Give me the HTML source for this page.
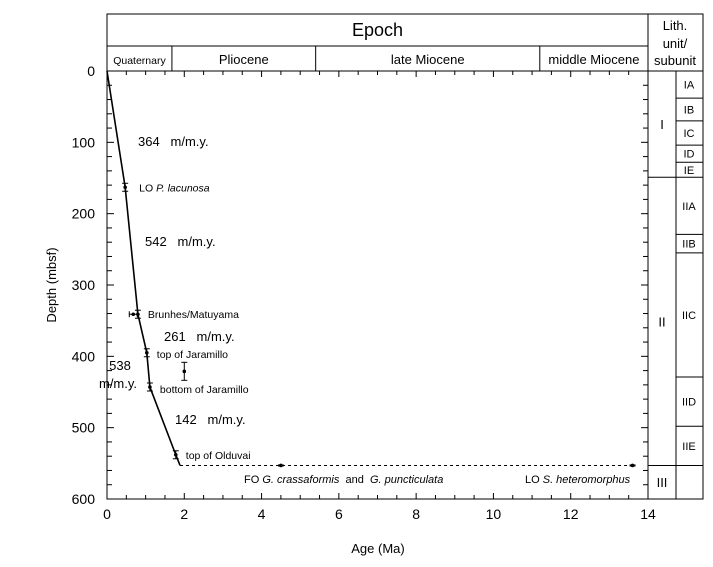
<!DOCTYPE html>
<html><head><meta charset="utf-8"><style>
body{margin:0;background:#fff;}
svg{display:block;font-family:"Liberation Sans",Arial,sans-serif;}
</style></head><body>
<svg id="c" width="713" height="567"></svg>
<script>
const modelAges=[0,0.47,0.80,1.03,1.11,1.78,1.89];
const modelDepths=[0,163,341,395,443,538,553];
const datumNames=["LO P. lacunosa","Brunhes/Matuyama","top of Jaramillo","bottom of Jaramillo","top of Olduvai"];
const extraAges=[0.68,2.0,4.5,13.6];
const extraDepths=[341,421,553,553];
const rateLabels=["364   m/m.y.","542   m/m.y.","261   m/m.y.","142   m/m.y."];
const epochNames=["Quaternary","Pliocene","late Miocene","middle Miocene"];
const epochBounds=[0,1.68,5.4,11.2,14];
const unitNames=["I","II","III"];
const unitBounds=[0,149,553,600];
const subNames=["IA","IB","IC","ID","IE","IIA","IIB","IIC","IID","IIE",""];
const subBounds=[0,38,70,104,128,149,229,255,429,498,553,600];
const xTicks=[0,2,4,6,8,10,12,14];
const yTicks=[0,100,200,300,400,500,600];

const NS="http://www.w3.org/2000/svg";
const svg=document.getElementById('c');
const X0=107,X1=648,Y0=71,Y1=499;
const xs=a=>X0+a*(X1-X0)/14;
const ys=d=>Y0+d*(Y1-Y0)/600;
function el(t,a,p){const e=document.createElementNS(NS,t);for(const k in a)e.setAttribute(k,a[k]);(p||svg).appendChild(e);return e;}
function ln(x1,y1,x2,y2,w,dash){return el('line',{x1,y1,x2,y2,stroke:'#000','stroke-width':w||1,'stroke-dasharray':dash||'none'});}
function tx(x,y,s,size,anchor,style){const t=el('text',{x,y,'font-size':size||13,'text-anchor':anchor||'start','font-style':style||'normal'});t.textContent=s;return t;}

let f=el('rect',{x:X0,y:14,width:703-X0,height:Y1-14,fill:'none',stroke:'#000'});

ln(X0,46,X1,46);ln(X0,Y0,703,Y0);ln(X1,14,X1,Y1);ln(676,Y0,676,Y1);
let t=tx((X0+X1)/2,36,"Epoch",18,'middle');
t=tx(675,30,"Lith.",13,'middle');
tx(675,48,"unit/",13,'middle');tx(675,65,"subunit",13,'middle');
epochNames.forEach((n,i)=>{
  if(i>0)ln(xs(epochBounds[i]),46,xs(epochBounds[i]),Y0);
  const cx=(xs(epochBounds[i])+xs(epochBounds[i+1]))/2;
  const e=tx(cx,64,n,i==0?10.5:13,'middle');
  
  
});
for(let a=0;a<=14;a+=0.5){const L=(a%2==0)?6:4;ln(xs(a),Y0,xs(a),Y0+L);ln(xs(a),Y1,xs(a),Y1-L);}
for(let d=0;d<=600;d+=20){const L=(d%100==0)?7:5;ln(X0,ys(d),X0+L,ys(d));ln(X1,ys(d),X1-L,ys(d));}
xTicks.forEach(v=>{const e=tx(xs(v),519,String(v),14,'middle');});
yTicks.forEach(v=>{const e=tx(X0-12,ys(v)+5,String(v),14,'end');});
t=tx(378,553,"Age (Ma)",13,'middle');
t=tx(0,0,"Depth (mbsf)",13,'middle');t.setAttribute('transform','translate(56,285) rotate(-90)');
unitNames.forEach((n,i)=>{
  if(i>0)ln(X1,ys(unitBounds[i]),676,ys(unitBounds[i]));
  const e=tx(662,(ys(unitBounds[i])+ys(unitBounds[i+1]))/2+5,n,13,'middle');
  
});
subNames.forEach((n,i)=>{
  if(i>0)ln(676,ys(subBounds[i]),703,ys(subBounds[i]));
  if(n){const e=tx(689,(ys(subBounds[i])+ys(subBounds[i+1]))/2+4,n,11,'middle');
  }
});
const pts=modelAges.map((a,i)=>xs(a)+','+ys(modelDepths[i])).join(' ');
let pl=el('polyline',{points:pts,fill:'none',stroke:'#000','stroke-width':1.6});

let dl=ln(xs(modelAges[modelAges.length-1]),ys(553),xs(13.6),ys(553),1,'3,3');

const labelOff=[[14,4],[10,4],[10,5],[10,6],[10,4]];
for(let i=1;i<=5;i++){
  const x=xs(modelAges[i]),y=ys(modelDepths[i]);
  const c=el('circle',{cx:x,cy:y,r:1.8,fill:'#000'});
  
  ln(x-3,y-4,x+3,y-4);ln(x-3,y+4,x+3,y+4);ln(x,y-4,x,y+4);
  const e=tx(x+labelOff[i-1][0],y+labelOff[i-1][1],"",10.5);
  
  const nm=datumNames[i-1];
  if(nm.startsWith("LO ")){e.textContent="LO ";const s=el('tspan',{'font-style':'italic'},e);s.textContent=nm.slice(3);}
  else e.textContent=nm;
}
extraAges.forEach((a,i)=>{
  const x=xs(a),y=ys(extraDepths[i]);
  const c=el('circle',{cx:x,cy:y,r:1.8,fill:'#000'});
  
  if(i==0){ln(x-4,y,x+4,y);ln(x-4,y-3,x-4,y+3);ln(x+4,y-3,x+4,y+3);}
  if(i==1){ln(x,y-9,x,y+9);ln(x-3,y-9,x+3,y-9);ln(x-3,y+9,x+3,y+9);}
  if(i>=2){ln(x-3,y,x+3,y,2);}
});
t=tx(244,483,"",11);
t.style.whiteSpace='pre';
[["FO ",''],["G. crassaformis",'italic'],["  and  ",''],["G. puncticulata",'italic']].forEach(p=>{const s=el('tspan',{'font-style':p[1]||'normal'},t);s.textContent=p[0];});
t=tx(525,483,"",11);
[["LO ",''],["S. heteromorphus",'italic']].forEach(p=>{const s=el('tspan',{'font-style':p[1]||'normal'},t);s.textContent=p[0];});
const rp=[[138,146],[145,246],[164,341],[175,424]];
rateLabels.forEach((r,i)=>{const e=tx(rp[i][0],rp[i][1],r,13);e.style.whiteSpace='pre';
  });
t=tx(120,370,"538",13,'middle');
tx(118,388,"m/m.y.",13,'middle');
</script>
</body></html>
